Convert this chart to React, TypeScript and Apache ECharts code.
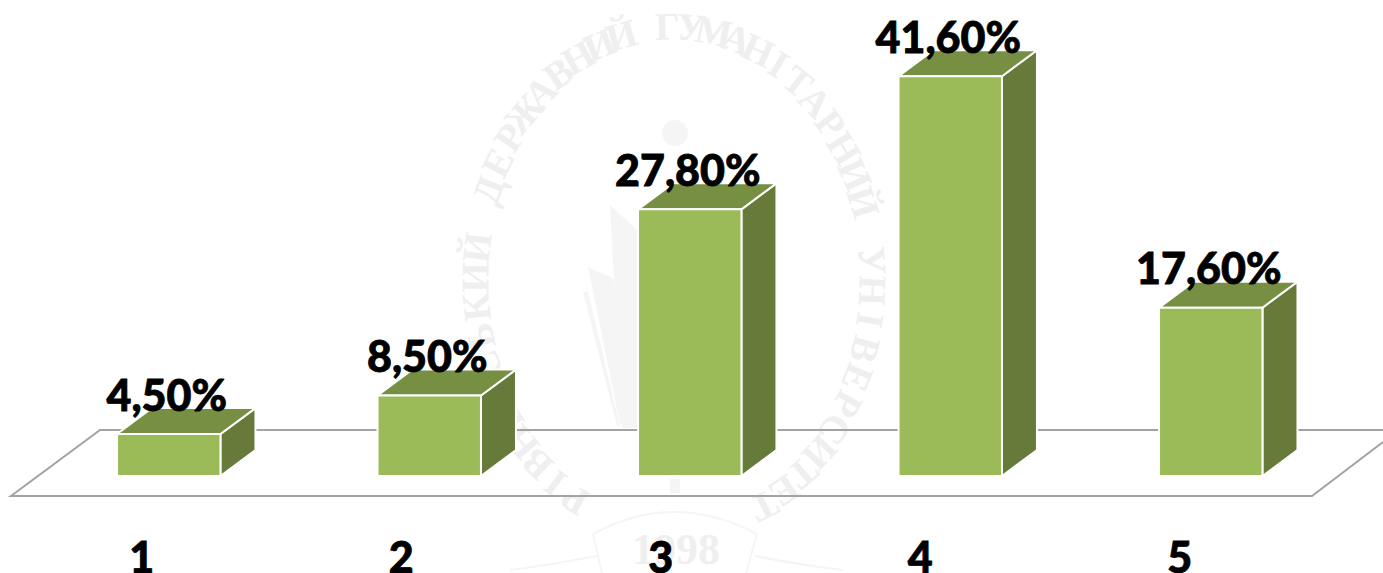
import React, { useEffect, useRef } from "react";
import * as echarts from "echarts";

const categories = ["1", "2", "3", "4", "5"];
const values = [4.5, 8.5, 27.8, 41.6, 17.6];
const valueLabels = ["4,50%", "8,50%", "27,80%", "41,60%", "17,60%"];
const sealText = "РІВНЕНСЬКИЙ ДЕРЖАВНИЙ ГУМАНІТАРНИЙ УНІВЕРСИТЕТ";
const sealYear = "1998";

const FONT = "Lato, Carlito, sans-serif";
const FRONT = "#9BBB59";
const TOP = "#778F42";
const SIDE = "#667A39";
const FLOOR = "#A3A3A3";
const SEAL = "#EFEFEF";
const SEAL_SOFT = "#F5F5F5";
const Y_MIN = 0.15;

function sealLetters(): any[] {
  const cx = 674, cy = 280, rx = 199, ry = 254;
  const start = -150, end = 153;
  const n = sealText.length;
  const out: any[] = [];
  for (let i = 0; i < n; i++) {
    const deg = start + ((end - start) * i) / (n - 1);
    const a = (deg * Math.PI) / 180;
    out.push({
      type: "text",
      x: cx + rx * Math.sin(a),
      y: cy - ry * Math.cos(a),
      rotation: -a,
      z: 0,
      silent: true,
      style: {
        text: sealText[i],
        fill: SEAL,
        font: "bold 39px 'Liberation Serif', serif",
        textAlign: "center",
        textVerticalAlign: "middle",
      },
    });
  }
  return out;
}

function sealShapes(): any[] {
  const poly = (points: number[][], fill = SEAL_SOFT) => ({
    type: "polygon",
    z: 0,
    silent: true,
    shape: { points },
    style: { fill },
  });
  const curve = (x1: number, y1: number, cpx: number, cpy: number, x2: number, y2: number) => ({
    type: "bezierCurve",
    z: 0,
    silent: true,
    shape: { x1, y1, x2, y2, cpx1: cpx, cpy1: cpy },
    style: { stroke: SEAL_SOFT, lineWidth: 2, fill: "none" },
  });
  return [
    poly([[610, 205], [637, 230], [637, 428], [622, 428]]),
    poly([[588, 267], [613, 278], [633, 424], [620, 424]]),
    poly([[583, 292], [588, 292], [620, 426], [617, 426]]),
    poly([[670, 479], [680, 479], [680, 493], [670, 493]]),
    { type: "ellipse", z: 0, silent: true, shape: { cx: 675, cy: 133, rx: 13, ry: 13 }, style: { fill: SEAL_SOFT } },
    curve(593, 534, 673, 490, 757, 534),
    { type: "line", z: 0, silent: true, shape: { x1: 593, y1: 534, x2: 602, y2: 573 }, style: { stroke: SEAL_SOFT, lineWidth: 2 } },
    { type: "line", z: 0, silent: true, shape: { x1: 757, y1: 534, x2: 746, y2: 573 }, style: { stroke: SEAL_SOFT, lineWidth: 2 } },
    curve(510, 570, 550, 565, 597, 556),
    curve(755, 556, 800, 565, 843, 570),
    {
      type: "text",
      z: 0,
      silent: true,
      x: 676,
      y: 549,
      style: {
        text: sealYear,
        fill: SEAL,
        font: "bold 44px 'Liberation Serif', serif",
        textAlign: "center",
        textVerticalAlign: "middle",
      },
    },
  ];
}

function renderBar(params: any, api: any) {
  const i = api.value(0);
  const v = api.value(1);
  const band = api.size([1, 0])[0];
  const [cx, topY] = api.coord([i, v]);
  const [, baseY] = api.coord([i, Y_MIN]);
  const w = band * 0.397;
  const x0 = cx - w / 2;
  const x1 = x0 + w;
  const dx = 35;
  const dy = 26;
  const stroke = { stroke: "#FFFFFF", lineWidth: 2 };
  return {
    type: "group",
    children: [
      {
        type: "polygon",
        shape: { points: [[x1, topY], [x1 + dx, topY - dy], [x1 + dx, baseY - dy], [x1, baseY]] },
        style: { fill: SIDE, ...stroke },
      },
      {
        type: "polygon",
        shape: { points: [[x0, topY], [x0 + dx, topY - dy], [x1 + dx, topY - dy], [x1, topY]] },
        style: { fill: TOP, ...stroke },
      },
      {
        type: "polygon",
        shape: { points: [[x0, topY], [x1, topY], [x1, baseY], [x0, baseY]] },
        style: { fill: FRONT, ...stroke },
      },
      {
        type: "text",
        x: cx - 2,
        y: topY - 40,
        style: {
          text: valueLabels[params.dataIndex],
          fill: "#000000",
          font: `900 43px ${FONT}`,
          stroke: "#000000",
          lineWidth: 0.8,
          textAlign: "center",
          textVerticalAlign: "middle",
        },
      },
    ],
  };
}

export default function App() {
  const ref = useRef<HTMLDivElement>(null);
  useEffect(() => {
    document.body.style.margin = "0";
    document.body.style.background = "#FFFFFF";
    const chart = echarts.init(ref.current!, undefined, { renderer: "svg" });
    const floor = (points: number[][]) => ({
      type: "polyline",
      z: 1,
      silent: true,
      shape: { points },
      style: { stroke: FLOOR, lineWidth: 2, fill: "none" },
    });
    chart.setOption({
      animation: false,
      backgroundColor: "#FFFFFF",
      grid: [
        { left: 38.5, width: 1302.5, top: 42, height: 434, outerBoundsMode: "none" },
        { left: 12, width: 1297.5, top: 42, height: 434, outerBoundsMode: "none" },
      ],
      xAxis: [
        {
          gridIndex: 0,
          type: "category",
          data: categories,
          axisLine: { show: false },
          axisTick: { show: false },
          axisLabel: { show: false },
        },
        {
          gridIndex: 1,
          type: "category",
          data: categories,
          axisLine: { show: false },
          axisTick: { show: false },
          axisLabel: {
            color: "#000000",
            fontFamily: FONT,
            fontWeight: 900,
            fontSize: 43,
            lineHeight: 30,
            margin: 65,
            textBorderColor: "#000000",
            textBorderWidth: 0.8,
          },
        },
      ],
      yAxis: [
        { gridIndex: 0, type: "value", min: Y_MIN, max: Y_MIN + 45, show: false, splitLine: { show: false } },
        { gridIndex: 1, type: "value", min: 0, max: 45, show: false, splitLine: { show: false } },
      ],
      graphic: {
        elements: [
          ...sealLetters(),
          ...sealShapes(),
          floor([[1383, 430], [100, 430], [11, 496], [1312, 496], [1383, 442]]),
        ],
      },
      series: [
        {
          type: "custom",
          xAxisIndex: 0,
          yAxisIndex: 0,
          z: 5,
          clip: false,
          renderItem: renderBar,
          encode: { x: 0, y: 1 },
          data: values.map((v, i) => [i, v]),
        },
      ],
    });
    return () => chart.dispose();
  }, []);
  return <div ref={ref} style={{ width: 1383, height: 573 }} />;
}
